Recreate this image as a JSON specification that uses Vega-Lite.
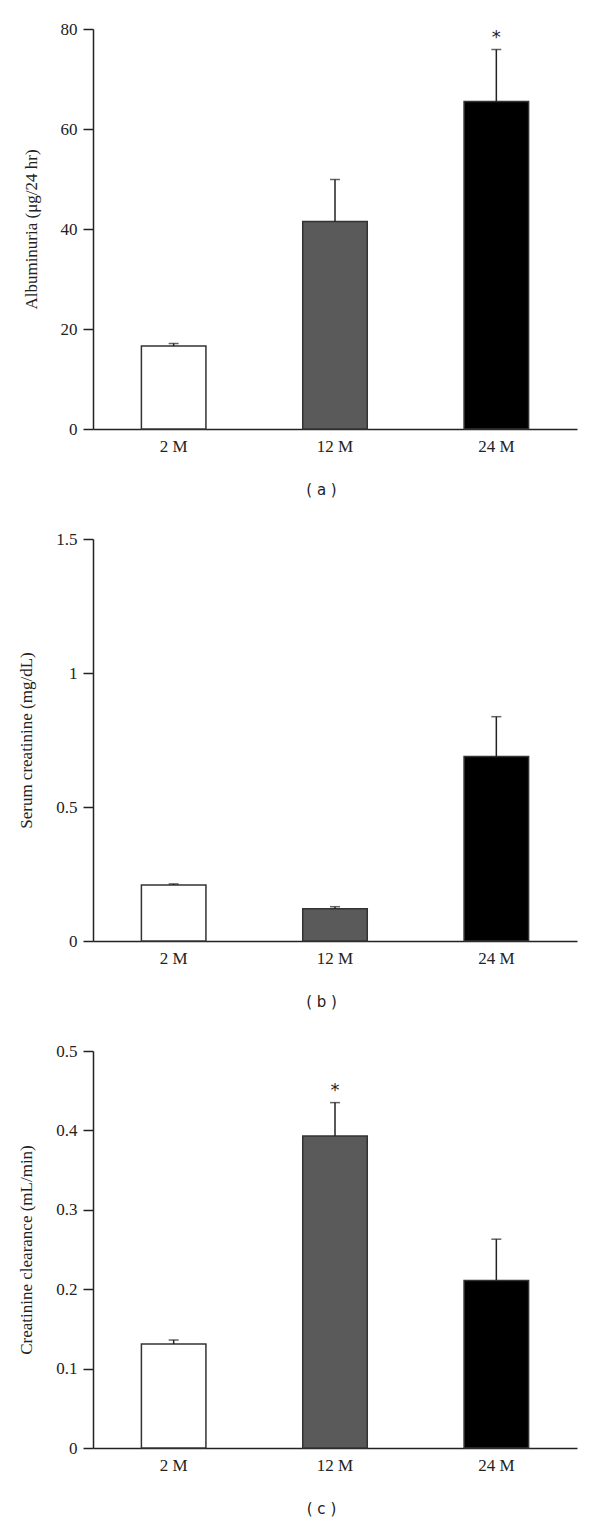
{
  "$schema": "https://vega.github.io/schema/vega-lite/v6.json",
  "padding": {"top": 20, "left": 17, "right": 15, "bottom": 5},
  "background": "white",
  "spacing": 33,
  "datasets": {
    "bars": [
      {"panel": "a", "group": "2 M", "value": 16.6, "err": 17.1, "sig": ""},
      {"panel": "a", "group": "12 M", "value": 41.5, "err": 49.9, "sig": ""},
      {"panel": "a", "group": "24 M", "value": 65.5, "err": 75.9, "sig": "*"},
      {"panel": "b", "group": "2 M", "value": 0.209, "err": 0.213, "sig": ""},
      {"panel": "b", "group": "12 M", "value": 0.12, "err": 0.128, "sig": ""},
      {"panel": "b", "group": "24 M", "value": 0.688, "err": 0.837, "sig": ""},
      {"panel": "c", "group": "2 M", "value": 0.131, "err": 0.136, "sig": ""},
      {"panel": "c", "group": "12 M", "value": 0.393, "err": 0.435, "sig": "*"},
      {"panel": "c", "group": "24 M", "value": 0.211, "err": 0.263, "sig": ""}
    ]
  },
  "config": {
    "view": {"stroke": null},
    "font": "Liberation Serif",
    "axis": {
      "grid": false,
      "domainColor": "#222",
      "domainWidth": 1.5,
      "tickColor": "#222",
      "tickWidth": 1.5,
      "labelColor": "#222",
      "labelFont": "Liberation Serif",
      "labelFontSize": 17,
      "titleFont": "Liberation Serif",
      "titleFontSize": 17,
      "titleFontWeight": "normal",
      "titleColor": "#222"
    },
    "axisY": {"tickSize": 10, "labelPadding": 6, "titlePadding": 20, "format": "~r"},
    "axisX": {"ticks": false, "labelAngle": 0, "labelPadding": 9, "titleFont": "DejaVu Sans", "titleFontSize": 15, "titlePadding": 28, "titleX": 228}
  },
  "vconcat": [
    {
      "width": 484, "height": 400,
      "data": {"name": "bars"},
      "transform": [{"filter": "datum.panel == 'a'"}],
      "encoding": {"x": {"field": "group", "type": "nominal", "sort": ["2 M", "12 M", "24 M"], "scale": {"paddingInner": 0.6, "paddingOuter": 0.3}, "axis": {"title": "( a )"}}},
      "layer": [
        {"mark": {"type": "bar", "stroke": "#333", "strokeWidth": 1.5},
         "encoding": {"y": {"field": "value", "type": "quantitative", "scale": {"domain": [0, 80], "nice": false}, "axis": {"title": "Albuminuria (μg/24 hr)", "values": [0, 20, 40, 60, 80]}},
                      "fill": {"field": "group", "type": "nominal", "scale": {"domain": ["2 M", "12 M", "24 M"], "range": ["#ffffff", "#5a5a5a", "#000000"]}, "legend": null}}},
        {"mark": {"type": "rule", "stroke": "#222", "strokeWidth": 1.5}, "encoding": {"y": {"field": "value", "type": "quantitative"}, "y2": {"field": "err"}}},
        {"mark": {"type": "tick", "size": 10, "thickness": 1.5, "color": "#222"}, "encoding": {"y": {"field": "err", "type": "quantitative"}}},
        {"mark": {"type": "text", "dy": -12, "fontSize": 18, "font": "DejaVu Sans", "color": "#222"}, "encoding": {"y": {"field": "err", "type": "quantitative"}, "text": {"field": "sig"}}}
      ]
    },
    {
      "width": 484, "height": 402,
      "data": {"name": "bars"},
      "transform": [{"filter": "datum.panel == 'b'"}],
      "encoding": {"x": {"field": "group", "type": "nominal", "sort": ["2 M", "12 M", "24 M"], "scale": {"paddingInner": 0.6, "paddingOuter": 0.3}, "axis": {"title": "( b )"}}},
      "layer": [
        {"mark": {"type": "bar", "stroke": "#333", "strokeWidth": 1.5},
         "encoding": {"y": {"field": "value", "type": "quantitative", "scale": {"domain": [0, 1.5], "nice": false}, "axis": {"title": "Serum creatinine (mg/dL)", "values": [0, 0.5, 1, 1.5]}},
                      "fill": {"field": "group", "type": "nominal", "scale": {"domain": ["2 M", "12 M", "24 M"], "range": ["#ffffff", "#5a5a5a", "#000000"]}, "legend": null}}},
        {"mark": {"type": "rule", "stroke": "#222", "strokeWidth": 1.5}, "encoding": {"y": {"field": "value", "type": "quantitative"}, "y2": {"field": "err"}}},
        {"mark": {"type": "tick", "size": 10, "thickness": 1.5, "color": "#222"}, "encoding": {"y": {"field": "err", "type": "quantitative"}}}
      ]
    },
    {
      "width": 484, "height": 397,
      "data": {"name": "bars"},
      "transform": [{"filter": "datum.panel == 'c'"}],
      "encoding": {"x": {"field": "group", "type": "nominal", "sort": ["2 M", "12 M", "24 M"], "scale": {"paddingInner": 0.6, "paddingOuter": 0.3}, "axis": {"title": "( c )"}}},
      "layer": [
        {"mark": {"type": "bar", "stroke": "#333", "strokeWidth": 1.5},
         "encoding": {"y": {"field": "value", "type": "quantitative", "scale": {"domain": [0, 0.5], "nice": false}, "axis": {"title": "Creatinine clearance (mL/min)", "values": [0, 0.1, 0.2, 0.3, 0.4, 0.5]}},
                      "fill": {"field": "group", "type": "nominal", "scale": {"domain": ["2 M", "12 M", "24 M"], "range": ["#ffffff", "#5a5a5a", "#000000"]}, "legend": null}}},
        {"mark": {"type": "rule", "stroke": "#222", "strokeWidth": 1.5}, "encoding": {"y": {"field": "value", "type": "quantitative"}, "y2": {"field": "err"}}},
        {"mark": {"type": "tick", "size": 10, "thickness": 1.5, "color": "#222"}, "encoding": {"y": {"field": "err", "type": "quantitative"}}},
        {"mark": {"type": "text", "dy": -12, "fontSize": 18, "font": "DejaVu Sans", "color": "#222"}, "encoding": {"y": {"field": "err", "type": "quantitative"}, "text": {"field": "sig"}}}
      ]
    }
  ]
}
